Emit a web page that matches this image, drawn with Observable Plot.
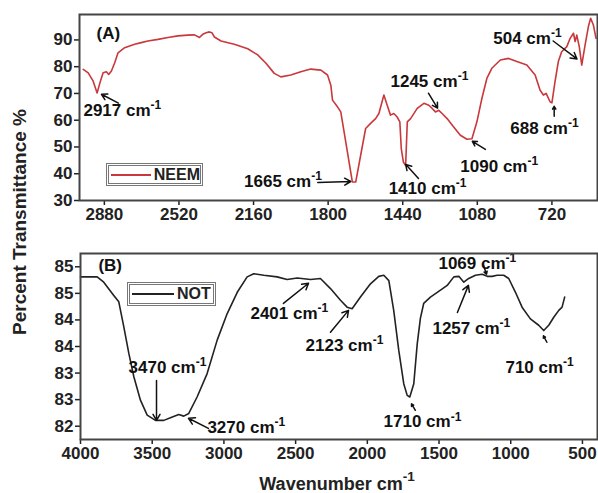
<!DOCTYPE html>
<html><head><meta charset="utf-8">
<script src="https://cdn.jsdelivr.net/npm/d3@7"></script>
<script src="https://cdn.jsdelivr.net/npm/@observablehq/plot@0.6"></script>
<style>
body{margin:0;background:#fff;}
#wrap{position:relative;width:598px;height:493px;font-family:"Liberation Sans",Arial,sans-serif;font-weight:bold;color:#222;overflow:hidden;}
#wrap svg{position:absolute;left:0;}
.lab{position:absolute;white-space:nowrap;line-height:1;}
.lab sup{font-size:0.75em;position:relative;top:-0.15em;}
.leg{position:absolute;border:3px double #777;background:#fff;display:flex;align-items:center;box-sizing:border-box;font-size:16px;}
.leg .sw{display:inline-block;height:0;border-top:2px solid;margin:0 3px 0 2px;}
</style></head><body><div id="wrap"></div>
<script>
// ---- Panel A: NEEM ----
const waveA = [2982,2958,2934,2915,2899,2886,2870,2859,2846,2830,2814,2782,2734,2702,2670,2621,2573,2525,2477,2445,2421,2405,2389,2373,2361,2349,2317,2253,2188,2140,2100,2060,2028,1980,1932,1884,1835,1803,1787,1779,1755,1739,1715,1691,1683,1667,1643,1619,1595,1571,1555,1531,1515,1499,1483,1467,1454,1447,1437,1426,1418,1402,1370,1338,1314,1298,1282,1266,1250,1226,1194,1162,1130,1106,1082,1058,1034,1010,969,929,889,841,801,777,761,748,729,720,705,689,673,648,632,616,608,600,588,576,560,544,533,520,507];
const transA = [79.0,77.7,74.6,70.2,74.6,77.7,78.1,77.1,78.4,81.5,85.2,87.1,88.4,89.0,89.6,90.2,90.9,91.5,91.8,91.9,90.9,92.1,92.7,93.0,92.7,91.1,89.6,88.4,86.7,84.4,81.3,77.5,76.2,76.9,78.1,79.1,78.7,76.9,73.1,67.5,65.0,63.1,51.9,40.6,36.9,36.9,46.9,56.9,58.8,60.6,62.5,69.4,65.6,61.9,62.5,61.2,59.4,49.4,44.4,43.1,59.4,60.6,64.4,66.3,65.6,64.4,63.1,63.7,62.5,60.6,57.5,54.4,52.9,53.1,59.4,68.1,75.6,79.4,82.5,83.1,81.9,80.6,76.9,71.2,69.4,70.0,66.9,66.5,74.4,81.9,85.6,87.5,90.6,92.5,89.4,91.8,87.5,80.6,88.1,95.0,98.1,95.6,90.6];
const xTicksA = [2880,2520,2160,1800,1440,1080,720];
const yTicksA = [30,40,50,60,70,80,90];
const seriesA = "NEEM";
const annTextA = ["(A)","2917 cm⁻¹","1665 cm⁻¹","1410 cm⁻¹","1245 cm⁻¹","1090 cm⁻¹","688 cm⁻¹","504 cm⁻¹"];
const annXA = [2918,2981,2206,1508,1499,1162,921,1003];
const annYA = [92.2,63.7,37.1,34.5,74.6,42.7,57.0,90.7];
const arrX1A = [2812,1850,1364,1316,1041,709,714];
const arrY1A = [66.4,36.7,38.2,70.1,49.1,61.5,89.6];
const arrX2A = [2894,1691,1426,1272,1104,709,599];
const arrY2A = [69.7,37.1,43.5,64.5,52.1,65.2,82.9];

// ---- Panel B: NOT ----
const waveB = [4000,3884,3838,3768,3733,3698,3663,3628,3582,3535,3477,3419,3373,3315,3280,3245,3187,3117,3047,2977,2907,2838,2792,2722,2629,2559,2489,2396,2327,2257,2187,2141,2106,2048,1978,1920,1885,1850,1816,1781,1746,1722,1704,1676,1652,1630,1607,1560,1490,1443,1397,1362,1327,1293,1246,1199,1164,1130,1095,1049,1014,967,921,863,805,770,735,700,665,642,624];
const transB = [84.81,84.81,84.71,84.46,84.34,83.87,83.37,82.93,82.49,82.21,82.11,82.11,82.16,82.22,82.19,82.24,82.55,82.99,83.62,84.12,84.52,84.81,84.87,84.84,84.81,84.76,84.79,84.76,84.78,84.59,84.37,84.24,84.21,84.43,84.68,84.82,84.84,84.74,84.18,83.43,82.80,82.58,82.55,82.80,83.55,84.03,84.31,84.43,84.56,84.65,84.81,84.82,84.71,84.78,84.84,84.86,84.82,84.82,84.84,84.84,84.78,84.52,84.24,84.02,83.90,83.80,83.90,84.05,84.18,84.24,84.43];
const xTicksB = [4000,3500,3000,2500,2000,1500,1000,500];
const yTicksB = [82,82.5,83,83.5,84,84.5,85];
const yTickLabelsB = ["82","83","83","84","84","85","85"];
const seriesB = "NOT";
const annTextB = ["(B)","3470 cm⁻¹","3270 cm⁻¹","2401 cm⁻¹","2123 cm⁻¹","1710 cm⁻¹","1257 cm⁻¹","1069 cm⁻¹","710 cm⁻¹"];
const annXB = [3875,3665,3115,2815,2431,1887,1546,1504,1037];
const annYB = [85.03,83.11,81.98,84.12,83.52,82.08,83.84,85.06,83.11];
const arrX1B = [3470,3108,2585,2257,1665,1372,1190,748];
const arrY1B = [82.86,81.96,84.31,83.77,82.30,84.14,85.03,83.58];
const arrX2B = [3470,3247,2410,2131,1692,1295,1169,772];
const arrY2B = [82.11,82.15,84.69,84.18,82.42,84.65,84.86,83.70];

const fontStyle = {fontFamily:"'Liberation Sans', Arial, sans-serif", fontSize:"17px", fontWeight:"bold", color:"#222", background:"transparent", overflow:"visible"};
const lineA = waveA.map((w,i)=>({w, v:transA[i]}));
const lineB = waveB.map((w,i)=>({w, v:transB[i]}));
const ann = (t,x,y)=>t.map((s,i)=>({t:s,x:x[i],y:y[i]}));
const arr = (a,b,c,d)=>a.map((_,i)=>({x1:a[i],y1:b[i],x2:c[i],y2:d[i]}));

const plotA = Plot.plot({
  width:598, height:230, marginLeft:79, marginRight:1, marginTop:14, marginBottom:30,
  x:{domain:[3000,500]}, y:{domain:[30,99.5]},
  style:fontStyle,
  marks:[
    Plot.axisX({ticks:xTicksA, tickFormat:d=>String(d), tickSize:5, tickPadding:2, label:null, strokeWidth:1.5}),
    Plot.axisY({ticks:yTicksA, tickFormat:d=>String(d), tickSize:5, tickPadding:2, label:null, strokeWidth:1.5}),
    Plot.line(lineA, {x:"w", y:"v", stroke:"#c8383c", strokeWidth:1.6}),
    Plot.arrow(arr(arrX1A,arrY1A,arrX2A,arrY2A), {x1:"x1",y1:"y1",x2:"x2",y2:"y2", stroke:"#111", strokeWidth:1.5, headLength:7}),
    Plot.text(ann(annTextA,annXA,annYA), {x:"x", y:"y", text:"t", textAnchor:"start", fontSize:17, fill:"#111"}),
    Plot.frame({stroke:"#444", strokeWidth:2})
  ]
});
const plotB = Plot.plot({
  width:598, height:263, marginLeft:80, marginRight:1, marginTop:23, marginBottom:54,
  x:{domain:[4000,395]}, y:{domain:[81.75,85.25]},
  style:fontStyle,
  marks:[
    Plot.axisX({ticks:xTicksB, tickFormat:d=>String(d), tickSize:5, tickPadding:2, label:null, strokeWidth:1.5}),
    Plot.axisY({ticks:yTicksB, tickFormat:d=>yTickLabelsB[yTicksB.indexOf(d)], tickSize:5, tickPadding:2, label:null, strokeWidth:1.5}),
    Plot.line(lineB, {x:"w", y:"v", stroke:"#222", strokeWidth:1.6}),
    Plot.arrow(arr(arrX1B,arrY1B,arrX2B,arrY2B), {x1:"x1",y1:"y1",x2:"x2",y2:"y2", stroke:"#111", strokeWidth:1.5, headLength:7}),
    Plot.text(ann(annTextB,annXB,annYB), {x:"x", y:"y", text:"t", textAnchor:"start", fontSize:17, fill:"#111"}),
    Plot.frame({stroke:"#444", strokeWidth:2})
  ]
});

// render "cm⁻¹" with a real raised superscript
function raiseSup(svg){
  const ns = "http://www.w3.org/2000/svg";
  svg.querySelectorAll("text").forEach(t=>{
    if (t.children.length === 0 && t.textContent.includes("⁻¹")) {
      const base = t.textContent.replace("⁻¹","");
      t.textContent = base;
      const ts = document.createElementNS(ns,"tspan");
      ts.setAttribute("dy","-0.55em");
      ts.setAttribute("font-size","12");
      ts.textContent = "-1";
      t.appendChild(ts);
    }
  });
}
raiseSup(plotA); raiseSup(plotB);

const wrap = document.getElementById("wrap");
plotA.style.top = "0px"; plotB.style.top = "230px";
wrap.appendChild(plotA); wrap.appendChild(plotB);

function addLegend(left, top, w, h, color, name, swW){
  const d = document.createElement("div");
  d.className = "leg";
  Object.assign(d.style, {left:left+"px", top:top+"px", width:w+"px", height:h+"px"});
  const s = document.createElement("span"); s.className="sw"; s.style.width = swW+"px"; s.style.borderTopColor = color;
  const t = document.createElement("span"); t.textContent = name;
  d.appendChild(s); d.appendChild(t); wrap.appendChild(d);
}
addLegend(106,163,97,23,"#c8383c",seriesA,42);
addLegend(127,282,89,24,"#222",seriesB,42);

const yl = document.createElement("div");
yl.className="lab"; yl.textContent = "Percent Transmittance %";
Object.assign(yl.style,{fontSize:"19px", left:"19px", top:"222px", transform:"translate(-50%,-50%) rotate(-90deg)"});
wrap.appendChild(yl);
const xl = document.createElement("div");
xl.className="lab"; xl.innerHTML = "Wavenumber cm<sup>-1</sup>";
Object.assign(xl.style,{fontSize:"18px", left:"337px", top:"482px", transform:"translate(-50%,-50%)"});
wrap.appendChild(xl);
</script></body></html>
